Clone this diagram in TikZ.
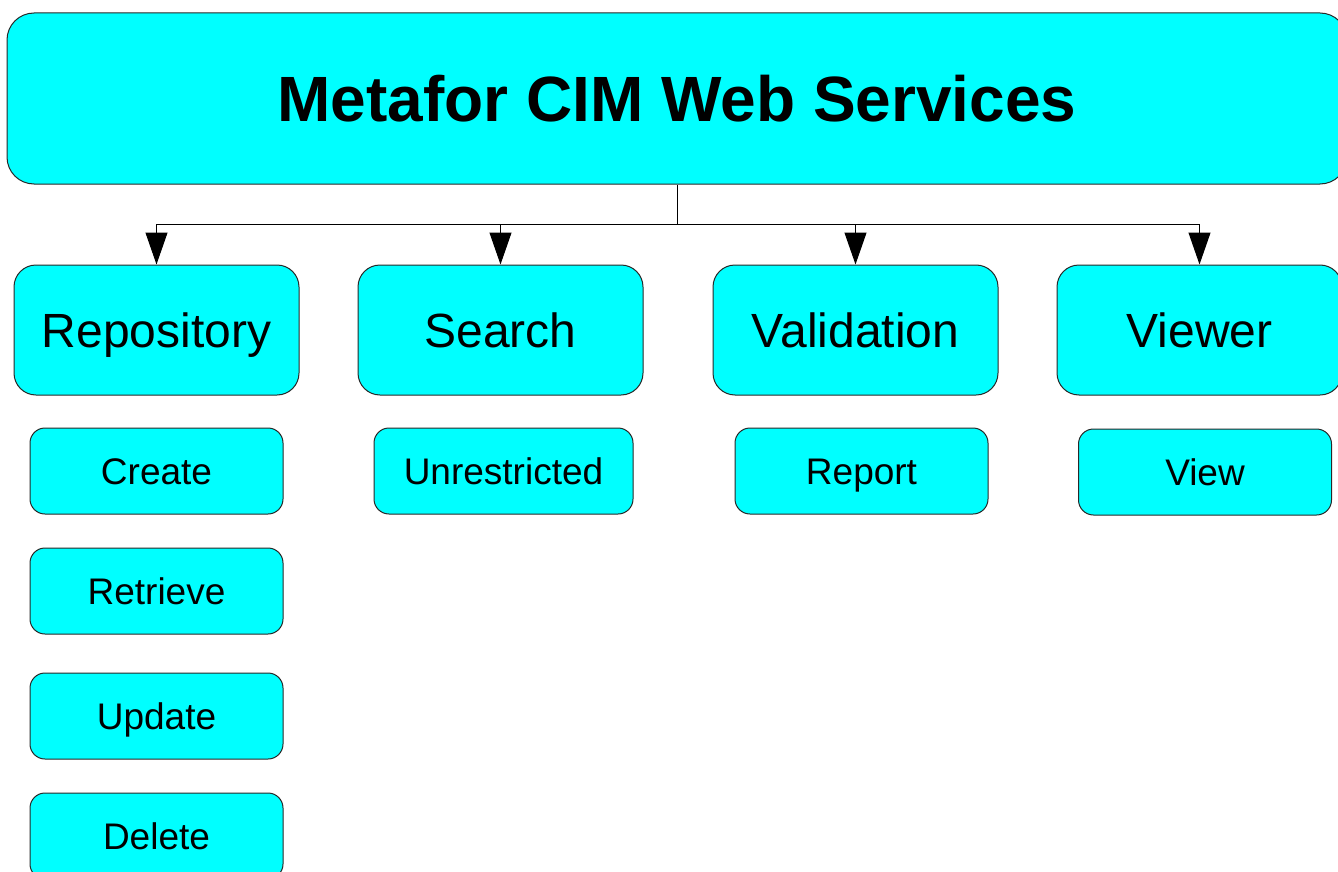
\documentclass[tikz,border=0pt]{standalone}
\usepackage{fontspec}
\setmainfont{Liberation Sans}
\usetikzlibrary{arrows.meta}
\definecolor{boxcyan}{RGB}{0,255,255}
\definecolor{edge}{RGB}{40,40,40}
\begin{document}
\begin{tikzpicture}[x=1pt,y=-1pt,
  box/.style={draw=edge,line width=1pt,fill=boxcyan,inner sep=0pt,text=black,text depth=0pt},
  topbox/.style={box,rounded corners=27pt,minimum width=1340pt,minimum height=171pt,text height=46pt,font=\fontsize{64}{72}\selectfont\bfseries},
  midbox/.style={box,rounded corners=22pt,minimum width=285pt,minimum height=130pt,text height=34.5pt,font=\fontsize{48}{56}\selectfont},
  leafbox/.style={box,rounded corners=15pt,minimum width=253pt,minimum height=86pt,text height=26.6pt,font=\fontsize{37}{44}\selectfont},
  arr/.style={line width=1pt,-{Triangle[width=22pt,length=32pt]}}]
\useasboundingbox (0,0) rectangle (1338,872);
\node[topbox] (main) at (677,98.5) {Metafor CIM Web Services};
\node[midbox] (repo) at (156.5,330) {Repository};
\node[midbox] (search) at (500.5,330) {Search};
\node[midbox] (valid) at (855.5,330) {Validation};
\node[midbox] (viewer) at (1199.5,330) {Viewer};
\node[leafbox] (create) at (156.5,471) {Create};
\node[leafbox] (retrieve) at (156.5,591) {Retrieve};
\node[leafbox] (update) at (156.5,716) {Update};
\node[leafbox] (delete) at (156.5,836) {Delete};
\node[leafbox,minimum width=259pt] (unres) at (503.5,471) {Unrestricted};
\node[leafbox] (report) at (861.5,471) {Report};
\node[leafbox] (view) at (1205,472) {View};
\coordinate (j) at (677,224);
\draw[line width=1pt] (main.south) -- (j);
\draw[arr] (j) -| (repo.north);
\draw[arr] (j) -| (search.north);
\draw[arr] (j) -| (valid.north);
\draw[arr] (j) -| (viewer.north);
\end{tikzpicture}
\end{document}
